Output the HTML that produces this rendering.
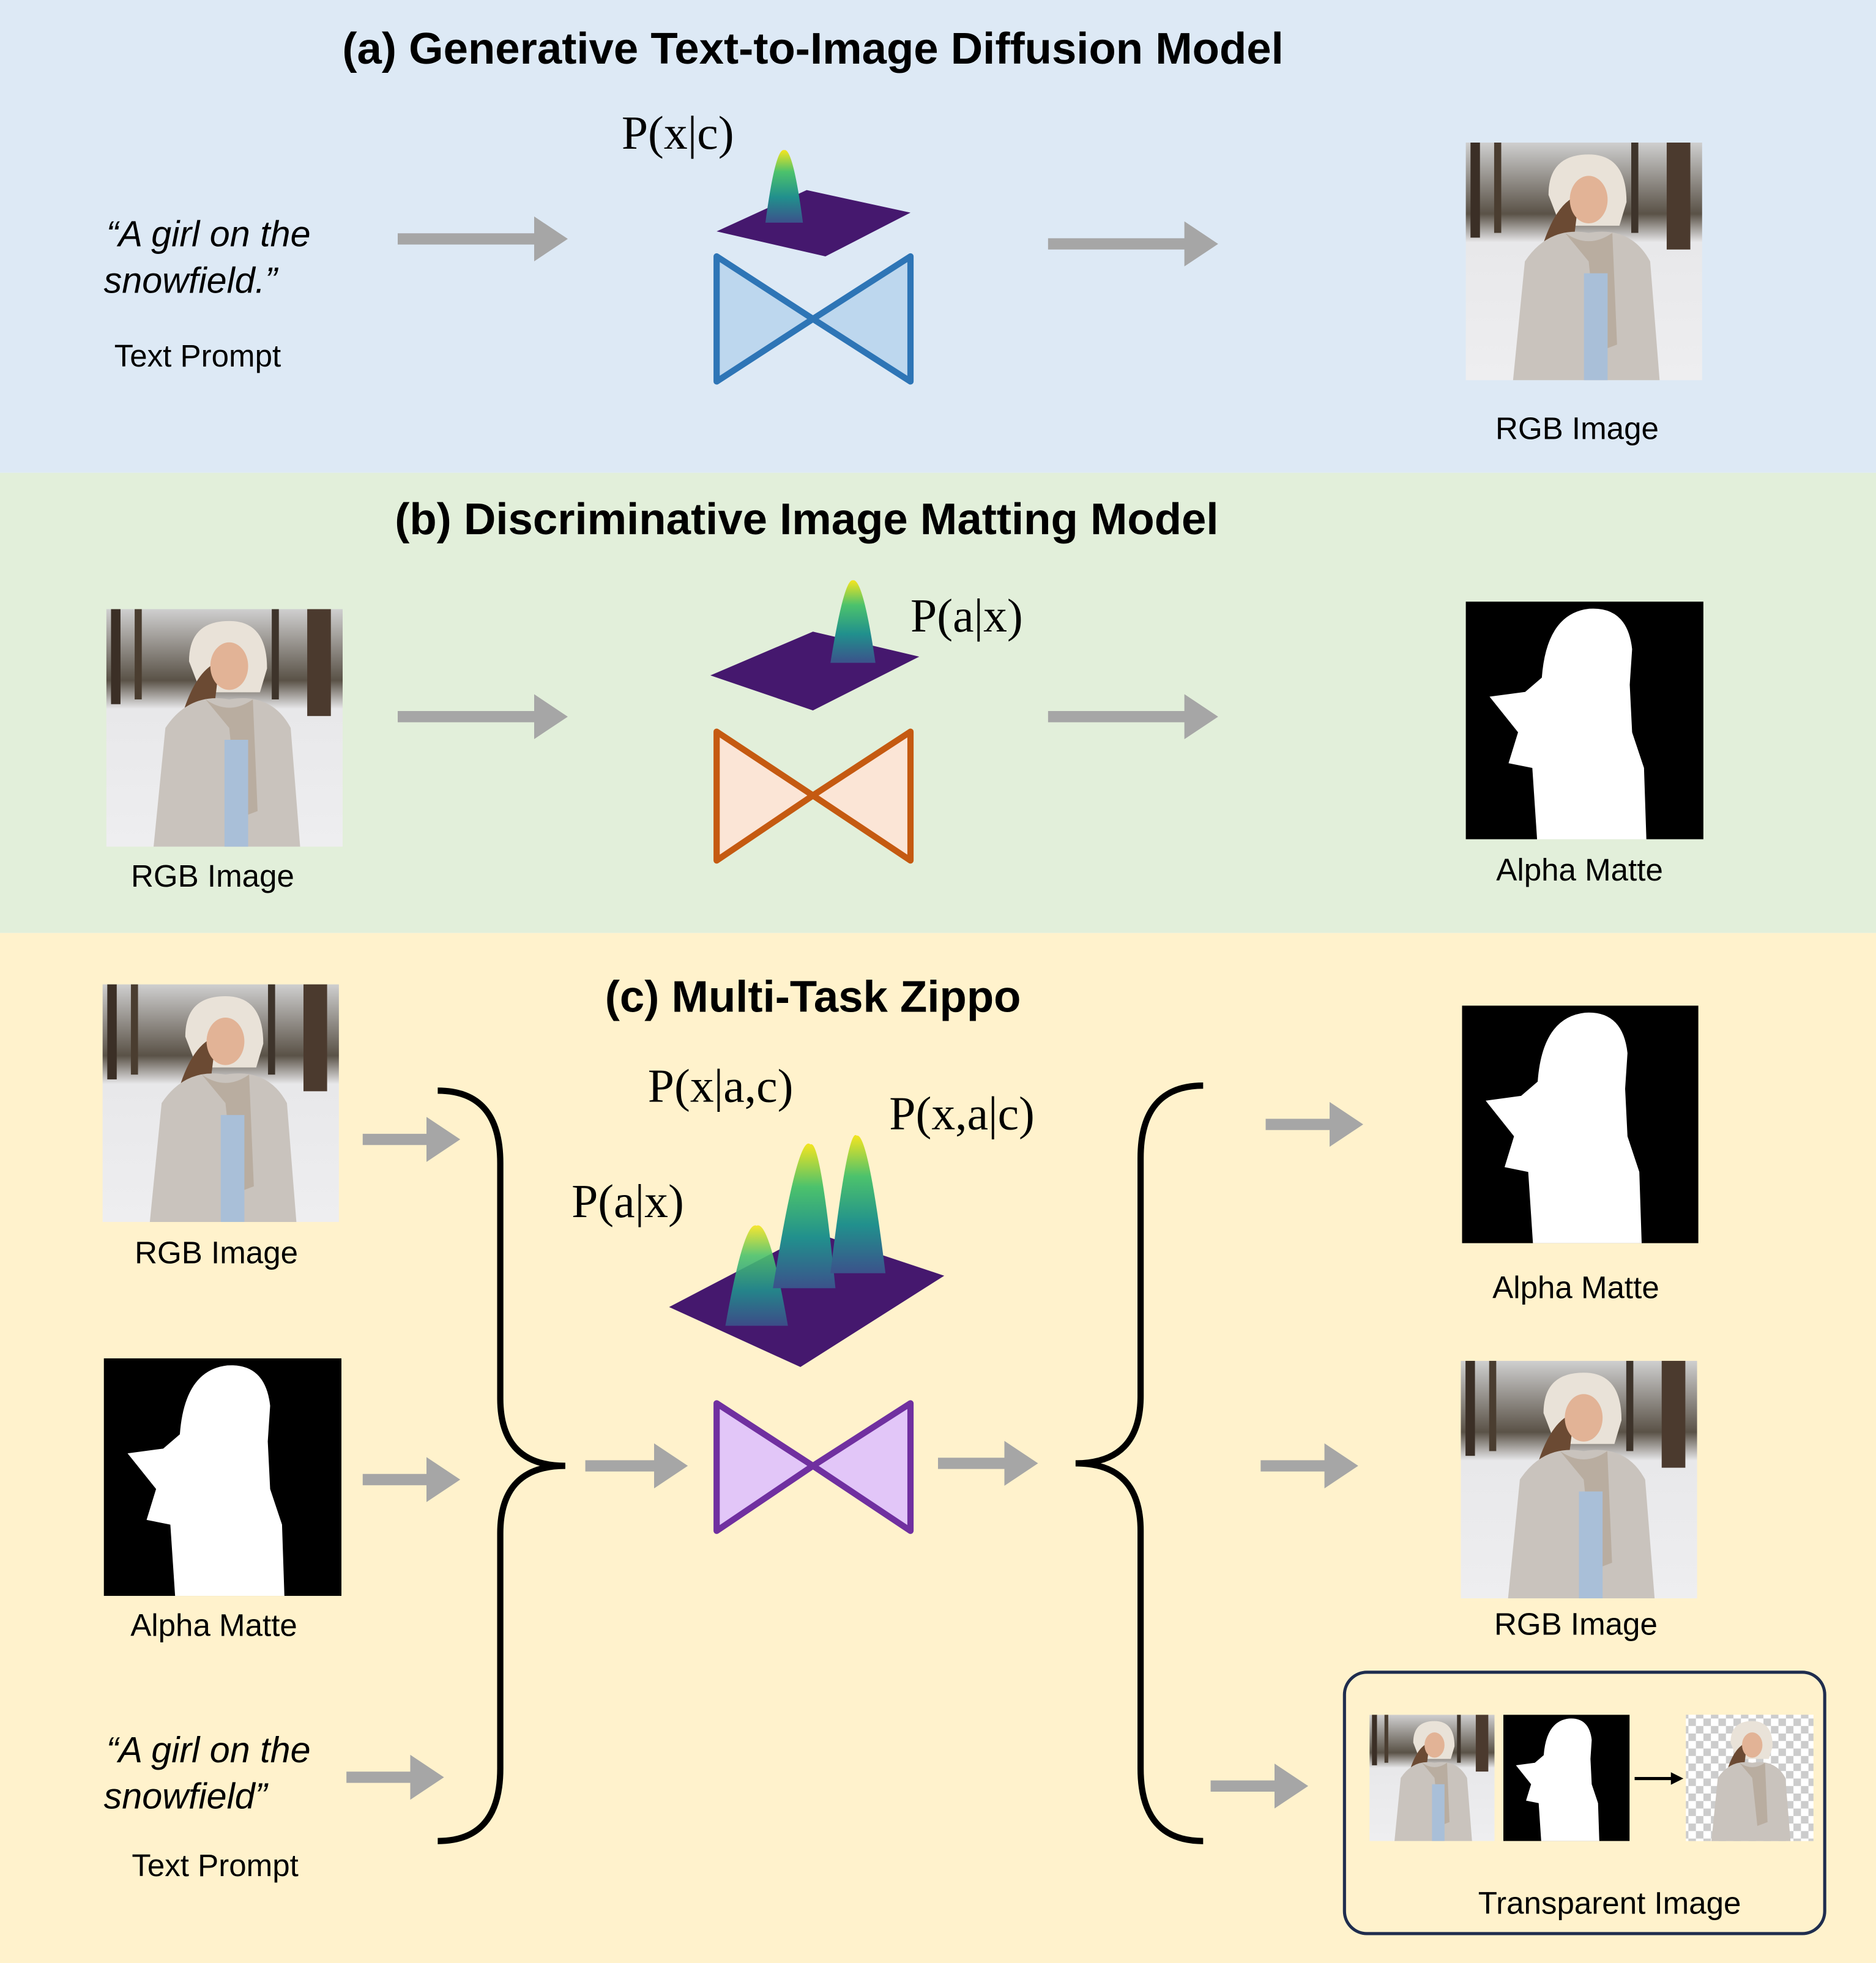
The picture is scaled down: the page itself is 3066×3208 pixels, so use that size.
<!DOCTYPE html>
<html><head><meta charset="utf-8"><style>html,body{margin:0;padding:0}svg{display:block}</style></head>
<body>
<svg xmlns="http://www.w3.org/2000/svg" width="3066" height="3208" viewBox="0 0 1500 1569.5" preserveAspectRatio="none">
<defs>
<linearGradient id="sky" x1="0" y1="0" x2="0" y2="1"><stop offset="0" stop-color="#cfcfcf"/><stop offset="0.3" stop-color="#5a5247"/><stop offset="0.42" stop-color="#e8e8ea"/><stop offset="1" stop-color="#eeeef0"/></linearGradient>
<linearGradient id="pk" x1="0" y1="0" x2="0" y2="1"><stop offset="0" stop-color="#f5e51f"/><stop offset="0.3" stop-color="#4cc26c"/><stop offset="0.65" stop-color="#21908d"/><stop offset="1" stop-color="#3b528b"/></linearGradient>
<symbol id="photo" viewBox="0 0 100 100" preserveAspectRatio="none">
<rect width="100" height="100" fill="url(#sky)"/>
<rect x="2" y="0" width="4" height="40" fill="#3b2f26"/><rect x="12" y="0" width="3" height="38" fill="#4a3d30"/>
<rect x="85" y="0" width="10" height="45" fill="#4b3a2e"/><rect x="70" y="0" width="3" height="38" fill="#3e342b"/>
<path d="M35 22 Q35 5 52 5 Q68 5 68 25 L65 35 L40 35 Z" fill="#e9e2d8"/>
<path d="M32 45 Q38 25 48 22 L44 55 Z" fill="#6b4a33"/>
<ellipse cx="52" cy="24" rx="8" ry="10" fill="#e2b396"/>
<path d="M20 100 L25 50 Q35 35 52 38 Q70 35 78 50 L82 100 Z" fill="#c9c3bd"/>
<path d="M42 38 Q52 45 62 38 L64 85 L56 88 L52 50 Z" fill="#b9ada0"/>
<rect x="50" y="55" width="10" height="45" fill="#a9bfd8"/>
</symbol>
<symbol id="matte" viewBox="0 0 100 100" preserveAspectRatio="none">
<rect width="100" height="100" fill="#000"/>
<path d="M30 100 L28 70 L18 68 L22 55 L10 40 L25 38 L32 32 Q34 5 52 3 Q68 2 70 20 L69 35 L70 55 L75 70 L76 100 Z" fill="#fff"/>
</symbol>
<pattern id="chk" width="12" height="12" patternUnits="userSpaceOnUse"><rect width="12" height="12" fill="#fff"/><rect width="6" height="6" fill="#ccc"/><rect x="6" y="6" width="6" height="6" fill="#ccc"/></pattern>
<marker id="ah" markerWidth="4" markerHeight="4" refX="1" refY="2" orient="auto" markerUnits="strokeWidth"><path d="M0,0 L3,2 L0,4 Z" fill="#a6a6a6"/></marker>
</defs>
<style>
.t{font-family:"Liberation Sans",sans-serif;font-weight:bold;font-size:35.5px;text-anchor:middle}
.l{font-family:"Liberation Sans",sans-serif;font-size:25px;text-anchor:middle}
.i{font-family:"Liberation Sans",sans-serif;font-style:italic;font-size:29px}
.p{font-family:"Liberation Serif",serif;font-size:38px}
.a{stroke:#a6a6a6;stroke-width:9;marker-end:url(#ah);fill:none}
</style>
<rect x="0" y="0" width="1500" height="378" fill="#dde9f5"/>
<rect x="0" y="378" width="1500" height="368" fill="#e2efda"/>
<rect x="0" y="746" width="1500" height="824" fill="#fff2cc"/>

<text class="t" x="650" y="51">(a) Generative Text-to-Image Diffusion Model</text>
<text class="i" x="85" y="197">“A girl on the</text>
<text class="i" x="83" y="234">snowfield.”</text>
<text class="l" x="158" y="293">Text Prompt</text>
<line class="a" x1="318" y1="191" x2="436" y2="191"/>
<text class="p" x="497" y="119">P(x|c)</text>
<polygon points="573,185 645,152 728,170 660,205" fill="#45186e"/>
<path d="M612 178 Q620 118 627 120 Q634 118 642 178 Z" fill="url(#pk)"/>
<polygon points="573,205 573,305 650,255" fill="#bdd7ee" stroke="#2e75b6" stroke-width="5" stroke-linejoin="round"/>
<polygon points="728,205 728,305 650,255" fill="#bdd7ee" stroke="#2e75b6" stroke-width="5" stroke-linejoin="round"/>
<line class="a" x1="838" y1="195" x2="956" y2="195"/>
<use href="#photo" x="1172" y="114" width="189" height="190"/>
<text class="l" x="1261" y="351">RGB Image</text>

<text class="t" x="645" y="427">(b) Discriminative Image Matting Model</text>
<use href="#photo" x="85" y="487" width="189" height="190"/>
<text class="l" x="170" y="709">RGB Image</text>
<line class="a" x1="318" y1="573" x2="436" y2="573"/>
<text class="p" x="728" y="505">P(a|x)</text>
<polygon points="568,540 650,505 735,525 650,568" fill="#45186e"/>
<path d="M664 530 Q675 462 682 464 Q690 462 700 530 Z" fill="url(#pk)"/>
<polygon points="573,585 573,688 650,636" fill="#fbe5d6" stroke="#c55a11" stroke-width="5" stroke-linejoin="round"/>
<polygon points="728,585 728,688 650,636" fill="#fbe5d6" stroke="#c55a11" stroke-width="5" stroke-linejoin="round"/>
<line class="a" x1="838" y1="573" x2="956" y2="573"/>
<use href="#matte" x="1172" y="481" width="190" height="190"/>
<text class="l" x="1263" y="704">Alpha Matte</text>

<text class="t" x="650" y="809">(c) Multi-Task Zippo</text>
<use href="#photo" x="82" y="787" width="189" height="190"/>
<text class="l" x="173" y="1010">RGB Image</text>
<use href="#matte" x="83" y="1086" width="190" height="190"/>
<text class="l" x="171" y="1308">Alpha Matte</text>
<text class="i" x="85" y="1409">“A girl on the</text>
<text class="i" x="83" y="1446">snowfield”</text>
<text class="l" x="172" y="1500">Text Prompt</text>
<line class="a" x1="290" y1="911" x2="350" y2="911"/>
<line class="a" x1="290" y1="1183" x2="350" y2="1183"/>
<line class="a" x1="277" y1="1421" x2="337" y2="1421"/>
<path d="M350 872 Q400 872 400 930 L400 1118 Q400 1172 452 1172 Q400 1172 400 1226 L400 1414 Q400 1472 350 1472" fill="none" stroke="#000" stroke-width="5"/>
<line class="a" x1="468" y1="1172" x2="532" y2="1172"/>
<text class="p" x="518" y="881">P(x|a,c)</text>
<text class="p" x="711" y="903">P(x,a|c)</text>
<text class="p" x="457" y="973">P(a|x)</text>
<polygon points="535,1045 650,985 755,1020 640,1093" fill="#45186e"/>
<path d="M580 1060 Q595 975 605 980 Q615 975 630 1060 Z" fill="url(#pk)" opacity="0.9"/>
<path d="M618 1030 Q638 905 648 915 Q656 910 668 1030 Z" fill="url(#pk)"/>
<path d="M664 1018 Q678 900 685 908 Q694 905 708 1018 Z" fill="url(#pk)"/>
<polygon points="573,1122 573,1224 650,1172" fill="#e2c6f8" stroke="#7030a0" stroke-width="5" stroke-linejoin="round"/>
<polygon points="728,1122 728,1224 650,1172" fill="#e2c6f8" stroke="#7030a0" stroke-width="5" stroke-linejoin="round"/>
<line class="a" x1="750" y1="1170" x2="812" y2="1170"/>
<path d="M962 868 Q912 868 912 926 L912 1116 Q912 1170 860 1170 Q912 1170 912 1224 L912 1414 Q912 1472 962 1472" fill="none" stroke="#000" stroke-width="5"/>
<line class="a" x1="1012" y1="899" x2="1072" y2="899"/>
<line class="a" x1="1008" y1="1172" x2="1068" y2="1172"/>
<line class="a" x1="968" y1="1428" x2="1028" y2="1428"/>
<use href="#matte" x="1169" y="804" width="189" height="190"/>
<text class="l" x="1260" y="1038">Alpha Matte</text>
<use href="#photo" x="1168" y="1088" width="189" height="190"/>
<text class="l" x="1260" y="1307">RGB Image</text>
<rect x="1075" y="1337" width="384" height="209" rx="18" fill="none" stroke="#1f2d4e" stroke-width="2.5"/>
<use href="#photo" x="1095" y="1371" width="100" height="101"/>
<use href="#matte" x="1202" y="1371" width="101" height="101"/>
<line x1="1307" y1="1422" x2="1338" y2="1422" stroke="#000" stroke-width="2.5"/>
<path d="M1346 1422 L1336 1417 L1336 1427 Z" fill="#000"/>
<rect x="1348" y="1371" width="102" height="101" fill="url(#chk)"/>
<g transform="translate(1348,1371) scale(1.02,1.01)">
<path d="M35 22 Q35 5 52 5 Q68 5 68 25 L65 35 L40 35 Z" fill="#e9e2d8"/>
<path d="M32 45 Q38 25 48 22 L44 55 Z" fill="#6b4a33"/>
<ellipse cx="52" cy="24" rx="8" ry="10" fill="#e2b396"/>
<path d="M20 100 L25 50 Q35 35 52 38 Q70 35 78 50 L82 100 Z" fill="#c9c3bd"/>
<path d="M42 38 Q52 45 62 38 L64 85 L56 88 L52 50 Z" fill="#b9ada0"/>
</g>
<text class="l" x="1287" y="1530">Transparent Image</text>
</svg>
</body></html>
